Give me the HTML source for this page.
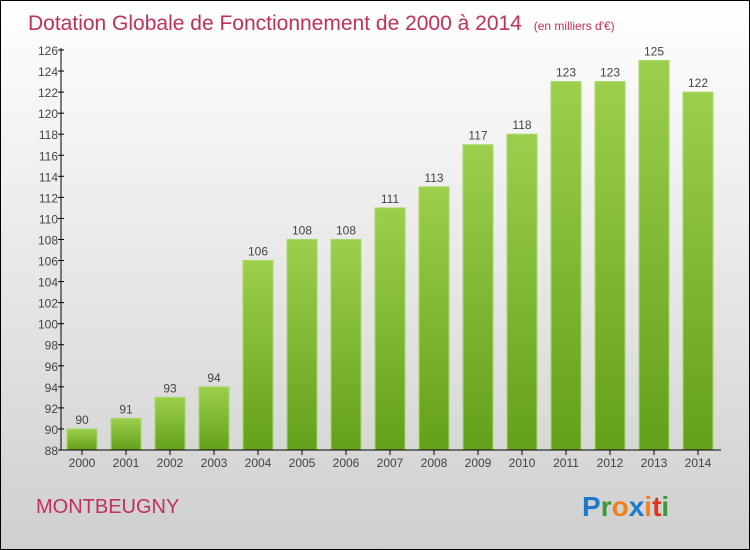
<!DOCTYPE html>
<html><head><meta charset="utf-8"><style>
body{margin:0}
#c{width:750px;height:550px;position:relative;overflow:hidden;box-sizing:border-box;border:1px solid #000;background:linear-gradient(#ffffff,#cfcfcf);font-family:"Liberation Sans",sans-serif}
</style></head><body>
<div id="c">
<svg width="750" height="550" style="position:absolute;left:-1px;top:-1px">
<defs><linearGradient id="g" x1="0" y1="0" x2="0" y2="1"><stop offset="0" stop-color="#9ccf4c"/><stop offset="1" stop-color="#64a01a"/></linearGradient></defs>
<text x="28" y="30" font-size="21" fill="#c0305a">Dotation Globale de Fonctionnement de 2000 à 2014 <tspan font-size="12" dx="6">(en milliers d'€)</tspan></text>
<g id="plot"></g>
<text x="36" y="513" font-size="20" fill="#c0305a">MONTBEUGNY</text>
<text x="582" y="516" font-size="28" font-weight="bold"><tspan fill="#1a7ad0">P</tspan><tspan fill="#3a9a3a">r</tspan><tspan fill="#f08020">o</tspan><tspan fill="#1a7ad0">x</tspan><tspan fill="#f08020">i</tspan><tspan fill="#e03020">t</tspan><tspan fill="#3a9a3a">i</tspan></text>
</svg>
</div>
<script>
const years=["2000","2001","2002","2003","2004","2005","2006","2007","2008","2009","2010","2011","2012","2013","2014"];
const values=[90,91,93,94,106,108,108,111,113,117,118,123,123,125,122];
const yTicks=[88,90,92,94,96,98,100,102,104,106,108,110,112,114,116,118,120,122,124,126];
const NS="http://www.w3.org/2000/svg";
const g=document.getElementById('plot');
const y=v=>450-(v-88)*400/38;
const x=i=>82+44*i;
function mk(t,a){const e=document.createElementNS(NS,t);for(const k in a)e.setAttribute(k,a[k]);g.appendChild(e);return e;}
yTicks.forEach(v=>{
 const t=mk('text',{x:58,y:y(v)+5,'font-size':12,fill:'#444','text-anchor':'end'});t.textContent=v;
 
 
 const l=mk('line',{x1:58,x2:64,y1:y(v),y2:y(v),stroke:'#000'});
 
 
});
values.forEach((v,i)=>{
 const r=mk('rect',{x:x(i)-15,y:y(v),width:30,height:450-y(v),fill:'url(#g)',stroke:'#a8d868','stroke-width':1});
 
 
 const t=mk('text',{x:x(i),y:y(v)-5,'font-size':12,fill:'#444','text-anchor':'middle'});t.textContent=v;
 
 
 const k=mk('line',{x1:x(i),x2:x(i),y1:450,y2:455,stroke:'#000'});
 
 
 const xl=mk('text',{x:x(i),y:467,'font-size':12,fill:'#444','text-anchor':'middle'});xl.textContent=years[i];
 
 
});
const ya=mk('line',{x1:61,x2:61,y1:48,y2:450,stroke:'#000'});


const xa=mk('line',{x1:61,x2:721,y1:450,y2:450,stroke:'#000'});


</script>
</body></html>
